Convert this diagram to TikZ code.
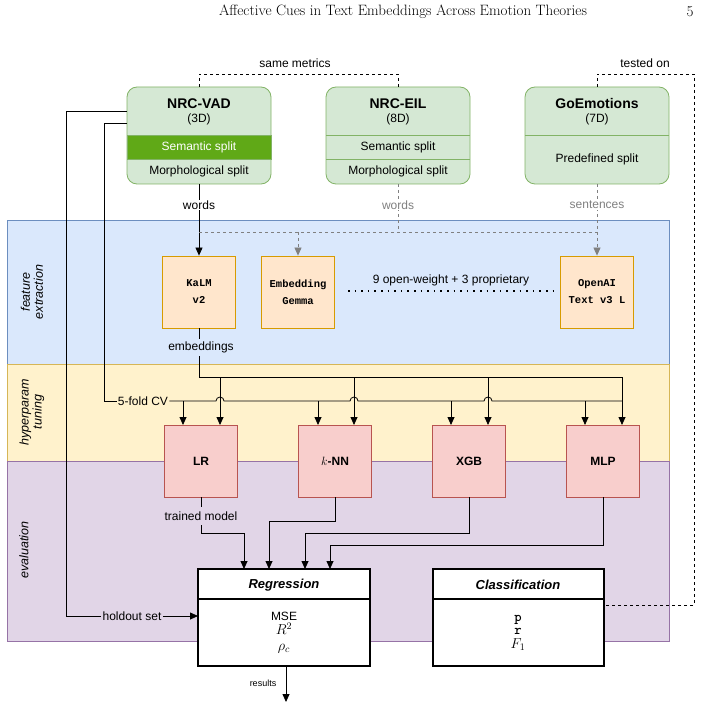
\documentclass[tikz,border=0pt]{standalone}
\usepackage{fontspec}
\newfontfamily\arial{Liberation Sans}
\newfontfamily\cour{Liberation Mono}
\usetikzlibrary{arrows.meta}
\definecolor{bandblue}{HTML}{DAE8FC}\definecolor{bandblueline}{HTML}{6C8EBF}
\definecolor{bandyellow}{HTML}{FFF2CC}\definecolor{bandyellowline}{HTML}{D6B656}
\definecolor{bandpurple}{HTML}{E1D5E7}\definecolor{bandpurpleline}{HTML}{9673A6}
\definecolor{dsfill}{HTML}{D5E8D4}\definecolor{dsline}{HTML}{82B366}
\definecolor{dsdark}{HTML}{60A917}
\definecolor{embfill}{HTML}{FFE6CC}\definecolor{embline}{HTML}{D79B00}
\definecolor{modfill}{HTML}{F8CECC}\definecolor{modline}{HTML}{B85450}
\tikzset{
  lbl/.style={font=\arial\fontsize{12}{14}\selectfont, inner sep=1pt},
  band/.style={font=\arial\itshape\fontsize{12.5}{13}\selectfont, rotate=90, align=center},
  emb/.style={draw=embline, fill=embfill, thick, minimum width=73pt, minimum height=72pt,
    font=\cour\bfseries\fontsize{10.5}{17}\selectfont, align=center},
  mod/.style={draw=modline, fill=modfill, thick, minimum width=73pt, minimum height=72pt,
    font=\arial\bfseries\fontsize{12}{14}\selectfont},
  arr/.style={-{Triangle[length=8pt,width=7pt]}},
  garr/.style={gray, dashed, -{Triangle[length=8pt,width=7pt]}},
}
\begin{document}
\begin{tikzpicture}[x=1pt,y=-1pt,line width=0.8pt]
\useasboundingbox (0,0) rectangle (702,708);
% header
\node (title) at (403,12) {\fontsize{15}{17}\selectfont Affective Cues in Text Embeddings Across Emotion Theories};
\node (page) at (690,12) {\fontsize{15}{17}\selectfont 5};
% bands
\draw[bandblueline, fill=bandblue] (7,220) rectangle (669,364);
\draw[bandyellowline, fill=bandyellow] (7,364) rectangle (669,461);
\draw[bandpurpleline, fill=bandpurple] (7,461) rectangle (669,641);
\node[band] (bfeat) at (32,292) {feature\\extraction};
\node[band] (btune) at (32,412) {hyperparam\\tuning};
\node[band] (beval) at (24,550) {evaluation};
% datasets
\foreach \x/\nm/\t/\d in {127/vad/NRC-VAD/3D, 326/eil/NRC-EIL/8D, 525/goe/GoEmotions/7D} {
  \draw[dsline, fill=dsfill, rounded corners=10pt] (\x,87) rectangle ++(144,97);
  \node[lbl, align=center] (\nm) at (\x+72,112) {\textbf{\fontsize{14}{17}\selectfont \t}\\(\d)};
  \coordinate (\nm top) at (\x+72,87);
  \coordinate (\nm bot) at (\x+72,184);
}
\fill[dsdark] (127,135) rectangle (271,159);
\draw[dsline] (127,135) rectangle (271,159);
\draw[dsline] (326,135) -- (470,135) (326,159) -- (470,159) (525,135) -- (669,135);
\node[lbl, white] (vadsem) at (199,147) {Semantic split};
\node[lbl] (vadmor) at (199,171) {Morphological split};
\node[lbl] (eilsem) at (398,147) {Semantic split};
\node[lbl] (eilmor) at (398,171) {Morphological split};
\node[lbl] (goepre) at (597,159) {Predefined split};
% comparison links
\draw[dashed] (vadtop) -- (199,74) -| (eiltop);
\node[lbl] (same) at (295,63) {same metrics};
\draw[dashed] (goetop) -- (597,74) -- (694,74) -- (694,605) -- (604,605);
\node[lbl] (tested) at (645,63) {tested on};
% embedding models
\node[emb] (kalm) at (199,292) {KaLM\\v2};
\node[emb] (gemma) at (298,292) {Embedding\\Gemma};
\node[emb] (openai) at (597,292) {OpenAI\\Text v3 L};
\draw[line width=1.6pt, dash pattern=on 1.6pt off 5pt] (348,291) -- (554,291);
\node[lbl] (count) at (451,280) {9 open-weight + 3 proprietary};
\draw[arr] (vadbot) -- (kalm);
\node[lbl, fill=white] (wvad) at (199,205) {words};
\draw[gray, dashed] (eilbot) -- (398,232);
\node[lbl, gray, fill=white] (weil) at (398,205) {words};
\draw[gray, dashed] (199,232) -- (597,232);
\draw[garr] (298,232) -- (gemma);
\draw[garr] (goebot) -- (openai);
\node[lbl, gray, fill=white] (wgoe) at (597,205) {sentences};
% classifiers
\node[mod] (lr) at (201,461) {LR};
\node[mod] (knn) at (335,461) {$k$-NN};
\node[mod] (xgb) at (469,461) {XGB};
\node[mod] (mlp) at (603,461) {MLP};
\draw (kalm) -- (199,339);
\node[lbl] (embs) at (201,347) {embeddings};
\draw (199,356) -- (199,377) -- (622,377);
\foreach \x in {220,354,488,622} \draw[arr] (\x,377) -- (\x,425);
\node[lbl] (cv) at (143,401) {5-fold CV};
\draw (127,123) -- (104,123) -- (104,401) -- (cv.west);
\draw (cv.east) -- (216,401) arc (180:360:4) -- (350,401) arc (180:360:4) -- (484,401) arc (180:360:4) -- (622,401);
\foreach \x in {183,318,451,585} \draw[arr] (\x,401) -- (\x,425);
% evaluation
\draw[line width=1.6pt, fill=white] (198,569) rectangle (370,666);
\draw[line width=1.2pt] (198,599) -- (370,599);
\draw[line width=1.6pt, fill=white] (433,569) rectangle (604,666);
\draw[line width=1.2pt] (433,599) -- (604,599);
\node[lbl] (reg) at (284,585) {\bfseries\itshape\fontsize{13}{15}\selectfont Regression};
\node[lbl] (cls) at (518,585) {\bfseries\itshape\fontsize{13}{15}\selectfont Classification};
\node[font=\fontsize{14}{15}\selectfont, align=center] (regm) at (284,633) {{\arial\fontsize{12}{14}\selectfont MSE}\\[-1pt]$R^2$\\[1pt]$\rho_c$};
\node[font=\fontsize{14}{15}\selectfont, align=center] (clsm) at (518,633) {\texttt{\textbf{p}}\\[-2pt]\texttt{\textbf{r}}\\[-1pt]$F_1$};
\coordinate (regin) at (198,616);
\node[lbl] (hold) at (132,616) {holdout set};
\draw (127,111) -- (66,111) -- (66,616) -- (hold.west);
\draw[arr] (hold.east) -- (regin);
\draw (lr.south) -- (201,507);
\node[lbl] (tm) at (201,516) {trained model};
\draw[arr] (201,525) -- (201,533) -- (244,533) -- (244,569);
\draw[arr] (knn.south) -- (335,521) -- (269,521) -- (269,569);
\draw[arr] (xgb.south) -- (469,533) -- (305,533) -- (305,569);
\draw[arr] (mlp.south) -- (603,545) -- (330,545) -- (330,569);
\coordinate (out) at (286,702);
\draw[arr] (286,666) -- (out);
\node[font=\arial\fontsize{9}{10}\selectfont] (res) at (263,683) {results};
\end{tikzpicture}
\end{document}
